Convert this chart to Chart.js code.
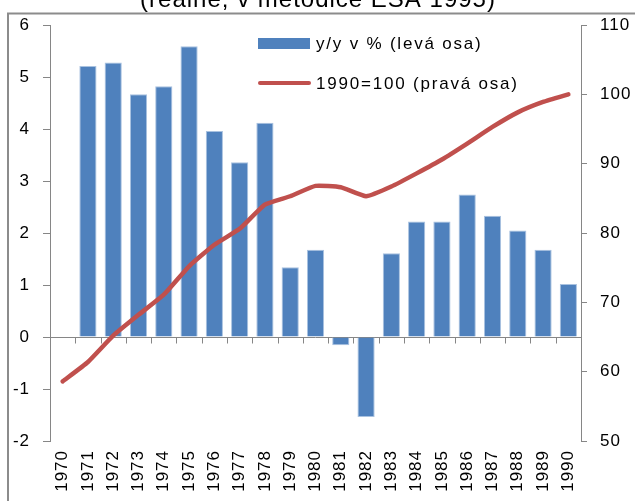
<!DOCTYPE html>
<html>
<head>
<meta charset="utf-8">
<script src="https://cdn.jsdelivr.net/npm/chart.js@4/dist/chart.umd.min.js"></script>
<style>
    html, body { margin: 0; padding: 0; background: #ffffff; }
    #wrap { width: 635px; height: 501px; position: relative; }
</style>
</head>
<body>
<div id="wrap"><canvas id="gdpChart" width="635" height="501"></canvas></div>
<script>
// Chart data
const titleText = "(reálně, v metodice ESA 1995)";
const years = ["1970", "1971", "1972", "1973", "1974", "1975", "1976", "1977", "1978", "1979", "1980",
               "1981", "1982", "1983", "1984", "1985", "1986", "1987", "1988", "1989", "1990"];
const growthPct = [null, 5.21, 5.28, 4.67, 4.82, 5.59, 3.96, 3.36, 4.12, 1.34, 1.68,
                   -0.16, -1.54, 1.61, 2.22, 2.22, 2.74, 2.33, 2.05, 1.68, 1.02];
const index1990 = [58.6, 61.4, 65.2, 68.2, 71.1, 75.2, 78.3, 80.6, 84.1, 85.3, 86.8,
                   86.6, 85.3, 86.7, 88.6, 90.6, 92.9, 95.3, 97.4, 98.9, 100];
const growthLabel = "y/y v % (levá osa)";
const indexLabel = "1990=100 (pravá osa)";

const blue = "#4F81BD";
const red = "#C0504D";
const axisGray = "#868686";
const fontFamily = "'Liberation Sans', Arial, sans-serif";

// frame, cut-off title, zero line and custom legend
const decorPlugin = {
    id: "decor",
    beforeDraw(chart) {
        chart.ctx.letterSpacing = "1px";
    },
    beforeDatasetsDraw(chart) {
        const ctx = chart.ctx;
        const xs = chart.scales.x;
        const y0 = Math.round(chart.scales.y.getPixelForValue(0)) + 0.5;
        ctx.save();
        ctx.strokeStyle = axisGray;
        ctx.lineWidth = 1;
        ctx.beginPath();
        ctx.moveTo(xs.left, y0);
        ctx.lineTo(xs.right, y0);
        const step = (xs.right - xs.left) / years.length;
        for (let i = 1; i < years.length; i++) {
            const x = Math.round(xs.left + i * step) + 0.5;
            ctx.moveTo(x, y0);
            ctx.lineTo(x, y0 + 6);
        }
        ctx.stroke();
        ctx.restore();
    },
    afterDraw(chart) {
        const ctx = chart.ctx;
        ctx.save();
        // outer frame
        ctx.strokeStyle = "#8C8C8C";
        ctx.lineWidth = 2;
        ctx.beginPath();
        ctx.moveTo(8, 501);
        ctx.lineTo(8, 13.5);
        ctx.lineTo(635, 13.5);
        ctx.stroke();

        // title (mostly outside the picture)
        ctx.fillStyle = "#000000";
        ctx.font = "24px " + fontFamily;
        ctx.letterSpacing = "1px";
        ctx.textAlign = "center";
        ctx.textBaseline = "alphabetic";
        ctx.fillText(titleText, 318, 7);

        // legend
        const ds = chart.data.datasets;
        ctx.font = "17px " + fontFamily;
        ctx.letterSpacing = "1.8px";
        ctx.textAlign = "left";
        ctx.textBaseline = "middle";
        ctx.fillStyle = ds[0].backgroundColor;
        ctx.fillRect(258, 38, 52, 11);
        ctx.strokeStyle = ds[1].borderColor;
        ctx.lineWidth = 4;
        ctx.lineCap = "round";
        ctx.beginPath();
        ctx.moveTo(260, 83);
        ctx.lineTo(309, 83);
        ctx.stroke();
        ctx.fillStyle = "#000000";
        ctx.fillText(ds[0].label, 316, 44);
        ctx.fillText(ds[1].label, 316, 84);
        ctx.restore();
        ctx.letterSpacing = "0px";
    }
};

const ctx = document.getElementById("gdpChart").getContext("2d");

new Chart(ctx, {
    type: "bar",
    data: {
        labels: years,
        datasets: [
            {
                type: "bar",
                label: growthLabel,
                data: growthPct,
                backgroundColor: blue,
                borderColor: "#A9C2E0",
                borderWidth: 1,
                barPercentage: 0.68,
                categoryPercentage: 1,
                yAxisID: "y",
                order: 2
            },
            {
                type: "line",
                label: indexLabel,
                data: index1990,
                borderColor: red,
                backgroundColor: red,
                borderWidth: 4.5,
                borderCapStyle: "round",
                borderJoinStyle: "round",
                pointRadius: 0,
                tension: 0.15,
                yAxisID: "y1",
                order: 1
            }
        ]
    },
    options: {
        responsive: false,
        animation: false,
        layout: { padding: { top: 25, left: 0, right: 0, bottom: 0 } },
        plugins: {
            legend: { display: false },
            tooltip: { enabled: false },
            title: { display: false }
        },
        scales: {
            x: {
                position: "bottom",
                grid: { display: false, drawTicks: false },
                border: { display: false },
                ticks: {
                    minRotation: 90,
                    maxRotation: 90,
                    autoSkip: false,
                    padding: 9,
                    color: "#000000",
                    font: { family: fontFamily, size: 17 }
                },
                afterFit: (scale) => { scale.height = 60; }
            },
            y: {
                position: "left",
                min: -2,
                max: 6,
                ticks: {
                    stepSize: 1,
                    padding: 13,
                    color: "#000000",
                    font: { family: fontFamily, size: 17 }
                },
                grid: { drawOnChartArea: false, drawTicks: true, tickLength: 7, color: axisGray },
                border: { color: axisGray, width: 1 },
                afterFit: (scale) => { scale.width = 50; }
            },
            y1: {
                position: "right",
                min: 50,
                max: 110,
                ticks: {
                    stepSize: 10,
                    padding: 13,
                    color: "#000000",
                    font: { family: fontFamily, size: 17 }
                },
                grid: { drawOnChartArea: false, drawTicks: true, tickLength: 6, color: axisGray },
                border: { color: axisGray, width: 1 },
                afterFit: (scale) => { scale.width = 54; }
            }
        }
    },
    plugins: [decorPlugin]
});
</script>
</body>
</html>
